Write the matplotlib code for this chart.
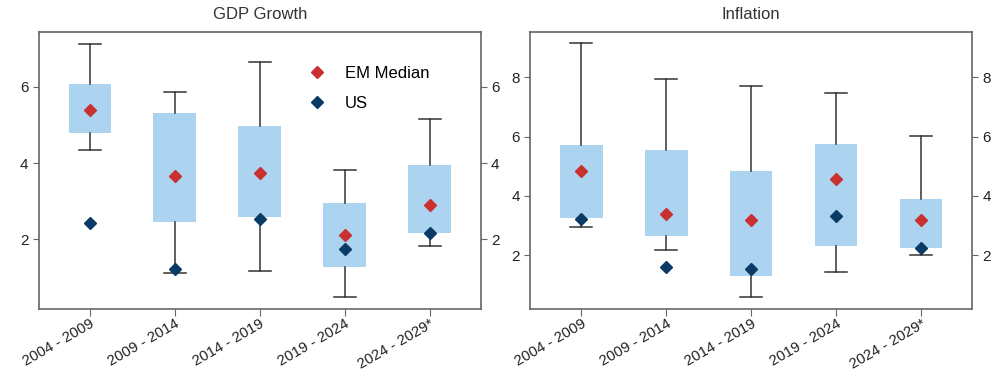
import matplotlib
matplotlib.use('Agg')
import matplotlib.pyplot as plt

plt.rcParams['font.family'] = ['Liberation Sans', 'DejaVu Sans']

periods = ['2004 - 2009', '2009 - 2014', '2014 - 2019', '2019 - 2024', '2024 - 2029*']

# GDP growth: whisker low, q1, q3, whisker high, EM median, US
gdp_lo = [4.35, 1.12, 1.18, 0.49, 1.83]
gdp_q1 = [4.79, 2.47, 2.58, 1.28, 2.18]
gdp_q3 = [6.06, 5.31, 4.97, 2.96, 3.96]
gdp_hi = [7.11, 5.85, 6.64, 3.81, 5.15]
gdp_em = [5.40, 3.65, 3.74, 2.13, 2.90]
gdp_us = [2.44, 1.22, 2.54, 1.75, 2.17]

# Inflation
inf_lo = [2.96, 2.18, 0.59, 1.43, 2.01]
inf_q1 = [3.26, 2.63, 1.28, 2.30, 2.24]
inf_q3 = [5.71, 5.56, 4.85, 5.75, 3.88]
inf_hi = [9.14, 7.94, 7.69, 7.48, 6.02]
inf_em = [4.85, 3.40, 3.18, 4.56, 3.17]
inf_us = [3.21, 1.60, 1.53, 3.32, 2.25]

BOX = '#acd3f0'
RED = '#c8312f'
NAVY = '#0a3a66'
SPINE = '#666666'


def panel(ax, title, lo, q1, q3, hi, em, us, ylim, legend=False):
    stats = []
    for i in range(len(periods)):
        stats.append({'whislo': lo[i], 'q1': q1[i], 'med': em[i],
                      'q3': q3[i], 'whishi': hi[i], 'fliers': []})
    pos = list(range(len(periods)))
    ax.bxp(stats, positions=pos, widths=0.5, patch_artist=True,
           showfliers=False,
           boxprops=dict(facecolor=BOX, edgecolor=BOX, linewidth=0),
           medianprops=dict(linewidth=0),
           whiskerprops=dict(color='#333333', linewidth=1.1),
           capprops=dict(color='#333333', linewidth=1.1),
           capwidths=0.26)
    ax.plot(pos, em, 'D', color=RED, ms=6.5, ls='none', label='EM Median', zorder=5)
    ax.plot(pos, us, 'D', color=NAVY, ms=6.5, ls='none', label='US', zorder=5)
    ax.set_xlim(-0.6, 4.6)
    ax.set_ylim(*ylim)
    ax.set_xticks(pos)
    ax.set_xticklabels(periods, rotation=30, ha='right', rotation_mode='anchor',
                       fontsize=10.7, color='#222222')
    ax.set_title(title, fontsize=12, color='#333333', pad=9)
    ax.tick_params(axis='y', right=True, labelright=True, direction='out',
                   length=4, color=SPINE, labelsize=11, labelcolor='#222222')
    ax.tick_params(axis='x', direction='out', length=5, color=SPINE, pad=0.5)
    for s in ax.spines.values():
        s.set_color(SPINE)
        s.set_linewidth(1.2)
    if legend:
        ax.legend(loc='upper left', bbox_to_anchor=(0.561, 0.924), frameon=False,
                  fontsize=12, labelspacing=0.9, handletextpad=0.7,
                  borderpad=0.3)


fig = plt.figure(figsize=(9.95, 3.71), dpi=100)
ax1 = fig.add_axes([0.039, 0.167, 0.444, 0.747])
ax2 = fig.add_axes([0.533, 0.167, 0.444, 0.747])

panel(ax1, 'GDP Growth', gdp_lo, gdp_q1, gdp_q3, gdp_hi, gdp_em, gdp_us,
      (0.18, 7.43), legend=True)
panel(ax2, 'Inflation', inf_lo, inf_q1, inf_q3, inf_hi, inf_em, inf_us,
      (0.18, 9.53))
ax1.set_yticks([2, 4, 6])
ax2.set_yticks([2, 4, 6, 8])

fig.savefig('out.png', dpi=100)
